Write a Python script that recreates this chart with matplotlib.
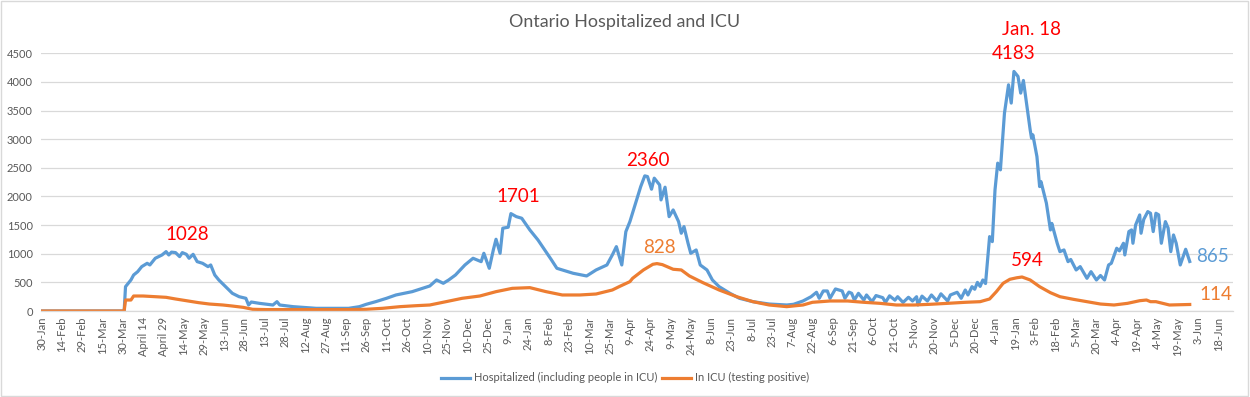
import matplotlib
matplotlib.use("Agg")
import matplotlib.pyplot as plt
from matplotlib.patches import Rectangle

plt.rcParams['font.family'] = ['Lato', 'DejaVu Sans']

# days counted from 30-Jan-2020 (one category per day)
hosp_day = [0, 61, 62, 66, 68, 71, 74, 78, 80, 84, 89, 92, 94, 96, 99, 102, 104, 107, 109,
            112, 115, 119, 123, 125, 128, 131, 136, 141, 146, 151, 153, 155, 161, 171, 174,
            176, 186, 203, 227, 235, 240, 247, 255, 262, 274, 287, 292, 297, 301, 306, 313,
            319, 325, 327, 331, 334, 336, 339, 341, 345, 347, 351, 355, 361, 367, 372, 377,
            381, 385, 393, 403, 410, 418, 422, 425, 429, 432, 435, 440, 443, 446, 448, 451,
            453, 457, 458, 461, 464, 467, 471, 473, 475, 478, 480, 484, 487, 492, 496, 501,
            509, 516, 526, 538, 551, 556, 563, 569, 573, 575, 578, 581, 583, 587, 592, 594,
            597, 599, 601, 604, 608, 610, 614, 617, 622, 624, 627, 631, 633, 637, 641, 644,
            647, 648, 651, 655, 658, 662, 665, 670, 672, 677, 680, 683, 685, 688, 690, 692,
            694, 696, 698, 701, 703, 705, 707, 709, 712, 715, 717, 719, 722, 724, 726, 729,
            731, 732, 733, 736, 738, 739, 743, 746, 747, 751, 753, 756, 759, 761, 765, 768,
            773, 776, 780, 783, 786, 789, 791, 795, 797, 800, 801, 804, 806, 807, 809, 812,
            813, 815, 818, 820, 822, 824, 826, 828, 831, 833, 835, 837, 839, 842, 846, 849]
hosp_val = [0, 0, 425, 542, 629, 687, 775, 833, 804, 921, 979, 1037, 979, 1028, 1020, 950, 1020,
            990, 921, 990, 862, 833, 775, 804, 629, 542, 425, 309, 250, 222, 105, 157, 134, 105,
            163, 105, 76, 47, 47, 76, 117, 163, 222, 280, 338, 437, 542, 484, 542, 629, 804,
            921, 862, 1008, 746, 1066, 1253, 1008, 1446, 1463, 1701, 1648, 1620, 1416, 1241,
            1066, 892, 746, 717, 659, 612, 717, 804, 979, 1124, 804, 1386, 1561, 1940, 2173,
            2360, 2348, 2127, 2320, 2202, 1940, 2162, 1648, 1765, 1561, 1358, 1474, 1183, 1008,
            1066, 804, 717, 542, 425, 309, 222, 163, 122, 105, 117, 175, 250, 327, 222, 350,
            350, 222, 385, 350, 222, 330, 309, 192, 309, 192, 280, 163, 270, 233, 150, 265,
            190, 250, 150, 240, 175, 250, 105, 260, 175, 280, 175, 300, 175, 280, 327, 222,
            367, 280, 425, 380, 500, 430, 542, 480, 1299, 1212, 2115, 2582, 2465, 3456, 3950,
            3631, 4183, 4096, 3805, 4026, 3514, 3164, 3019, 3076, 2697, 2173, 2260, 1883, 1416,
            1530, 1183, 1037, 1066, 862, 900, 717, 775, 571, 687, 542, 620, 542, 804, 833,
            1096, 1050, 1183, 979, 1387, 1416, 1183, 1503, 1678, 1358, 1600, 1736, 1707, 1387,
            1707, 1680, 1183, 1561, 1450, 1037, 1328, 1183, 804, 1078, 865]

icu_day = [0, 61, 62, 66, 68, 75, 84, 92, 99, 107, 116, 124, 134, 141, 149, 156, 166, 227, 240,
           252, 265, 277, 287, 299, 311, 324, 336, 348, 361, 373, 385, 398, 410, 422, 427, 435,
           437, 445, 452, 455, 459, 467, 473, 479, 489, 501, 514, 526, 538, 551, 563, 570, 583,
           596, 608, 620, 632, 645, 657, 670, 683, 694, 701, 706, 711, 716, 721, 725, 731, 738,
           746, 753, 763, 773, 783, 793, 803, 812, 817, 820, 824, 834, 849]
icu_val = [0, 0, 192, 192, 262, 262, 250, 239, 210, 180, 146, 122, 105, 87, 64, 30, 25, 25, 30,
           47, 76, 93, 105, 163, 222, 262, 338, 396, 408, 338, 280, 280, 297, 367, 425, 513,
           571, 717, 816, 828, 810, 729, 717, 612, 495, 367, 250, 163, 105, 76, 105, 152, 175,
           175, 152, 134, 105, 105, 117, 134, 152, 163, 210, 338, 484, 554, 580, 594, 542, 425,
           320, 250, 204, 163, 122, 105, 134, 180, 192, 163, 163, 105, 114]

tick_labels = ["30-Jan", "14-Feb", "29-Feb", "15-Mar", "30-Mar", "April 14", "April 29",
               "14-May", "29-May", "13-Jun", "28-Jun", "13-Jul", "28-Jul", "12-Aug", "27-Aug",
               "11-Sep", "26-Sep", "11-Oct", "26-Oct", "10-Nov", "25-Nov", "10-Dec", "25-Dec",
               "9-Jan", "24-Jan", "8-Feb", "23-Feb", "10-Mar", "25-Mar", "9-Apr", "24-Apr",
               "9-May", "24-May", "8-Jun", "23-Jun", "8-Jul", "23-Jul", "7-Aug", "22-Aug",
               "6-Sep", "21-Sep", "6-Oct", "21-Oct", "5-Nov", "20-Nov", "5-Dec", "20-Dec",
               "4-Jan", "19-Jan", "3-Feb", "18-Feb", "5-Mar", "20-Mar", "4-Apr", "19-Apr",
               "4-May", "19-May", "3-Jun", "18-Jun"]

BLUE = '#5B9BD5'
ORANGE = '#ED7D31'
GREY = '#595959'
GRID = '#D9D9D9'

fig = plt.figure(figsize=(12.5, 3.97), dpi=100)
ax = fig.add_axes([0.0328, 0.2166, 0.9536, 0.6491])

ax.plot(hosp_day, hosp_val, color=BLUE, lw=2.3, solid_joinstyle='round',
        label='Hospitalized (including people in ICU)')
ax.plot(icu_day, icu_val, color=ORANGE, lw=2.3, solid_joinstyle='round',
        label='In ICU (testing positive)')

ax.set_xlim(-0.5, 881)
ax.set_ylim(0, 4500)
ax.set_yticks(range(0, 4501, 500))
ax.set_xticks(range(0, 15 * len(tick_labels), 15))
ax.set_xticklabels(tick_labels, rotation=90)
ax.tick_params(axis='both', length=0, labelsize=8, labelcolor=GREY)
ax.tick_params(axis='x', pad=4)
ax.tick_params(axis='y', pad=6)
ax.grid(axis='y', color=GRID, lw=0.9)
ax.set_axisbelow(True)
for s in ['top', 'right', 'left']:
    ax.spines[s].set_visible(False)
ax.spines['bottom'].set_color(GRID)
ax.spines['bottom'].set_linewidth(0.9)

fig.text(0.5, 1 - 22 / 397, 'Ontario Hospitalized and ICU', fontsize=12.9, color=GREY,
         ha='center', va='center')

# peak notes
ax.text(107.5, 1330, '1028', color='red', fontsize=13.5, ha='center', va='center')
ax.text(352.6, 1993, '1701', color='red', fontsize=13.5, ha='center', va='center')
ax.text(448, 2622, '2360', color='red', fontsize=13.5, ha='center', va='center')
ax.text(457, 1101, '828', color=ORANGE, fontsize=13.5, ha='center', va='center')
ax.text(732, 4912, 'Jan. 18', color='red', fontsize=13.5, ha='center', va='center', clip_on=False)
ax.text(719, 4492, '4183', color='red', fontsize=13.5, ha='center', va='center', clip_on=False)
ax.text(728.6, 874, '594', color='red', fontsize=13.5, ha='center', va='center')
ax.text(853.5, 944, '865', color=BLUE, fontsize=13.5, ha='left', va='center')
ax.text(856, 297, '114', color=ORANGE, fontsize=13.5, ha='left', va='center')

fig.legend(loc='center', bbox_to_anchor=(0.5, 0.048), ncol=2, frameon=False,
           fontsize=8, labelcolor=GREY, handlelength=2.6, handletextpad=0.4,
           columnspacing=0.4)

fig.patches.append(Rectangle((0.0008, 0.002), 0.9976, 0.995, transform=fig.transFigure,
                             fill=False, edgecolor=GRID, lw=1.0))

fig.savefig('out.png', dpi=100)
